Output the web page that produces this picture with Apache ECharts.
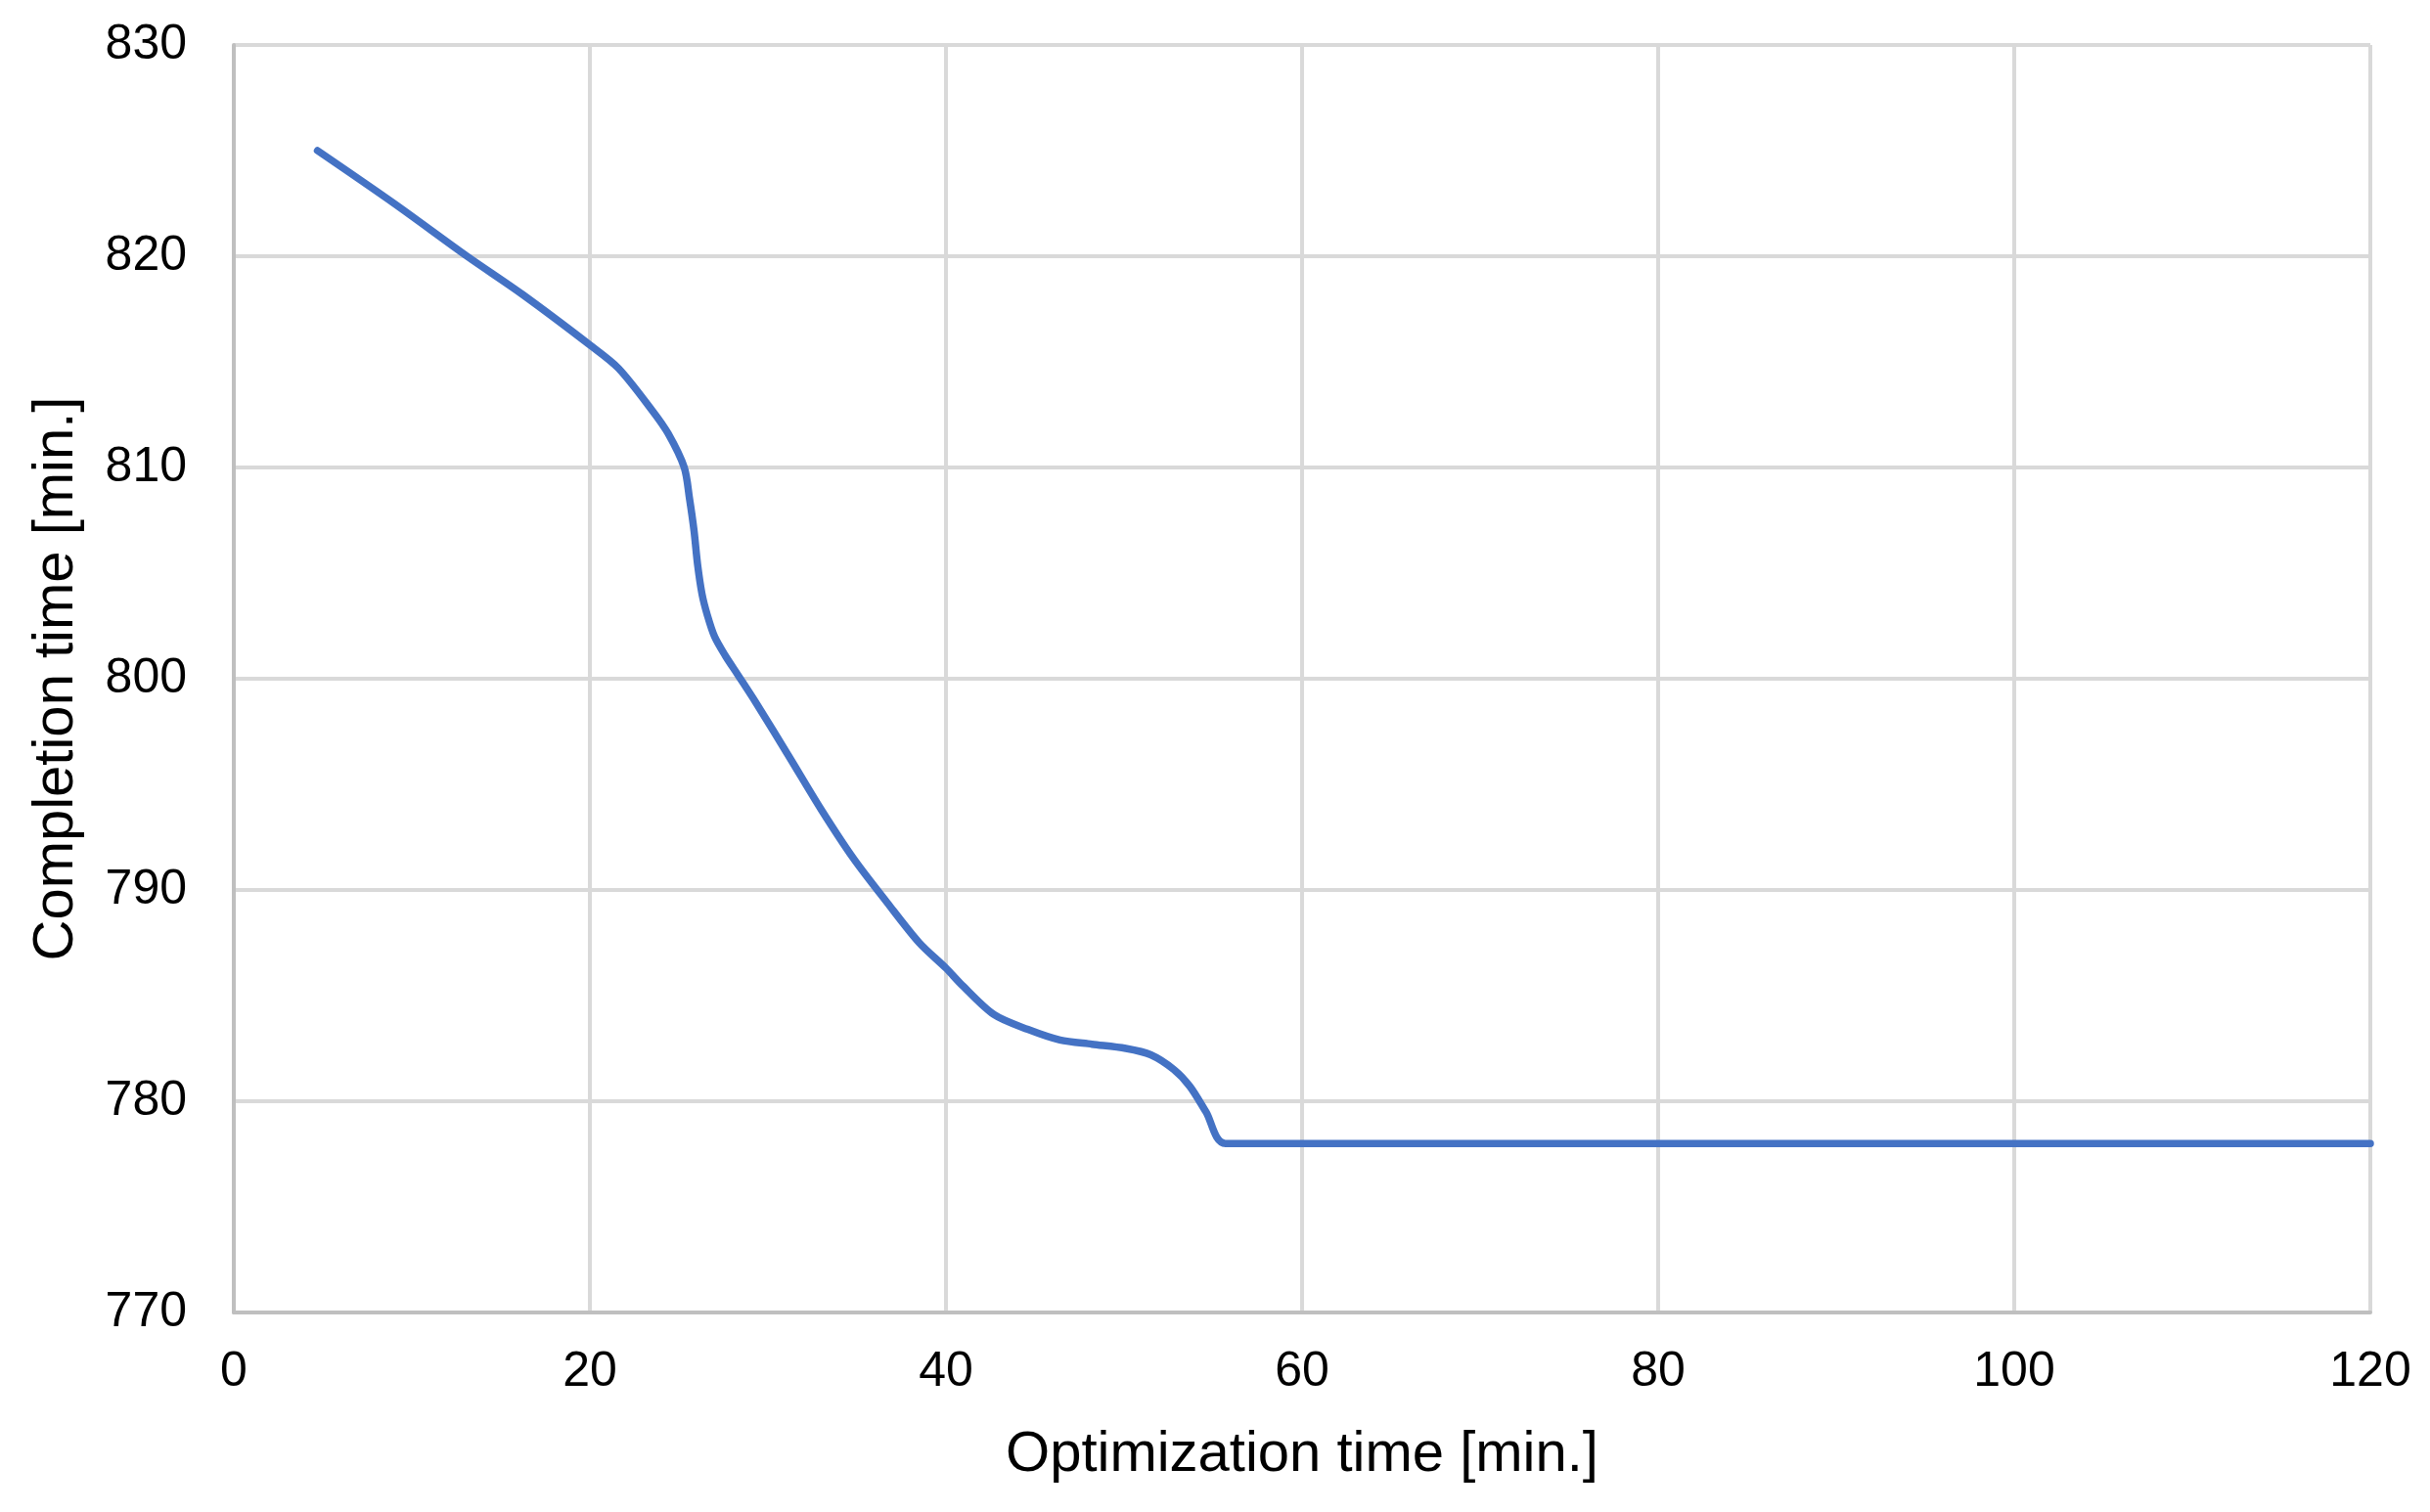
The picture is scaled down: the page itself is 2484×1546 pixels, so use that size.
<!DOCTYPE html>
<html>
<head>
<meta charset="utf-8">
<script src="https://cdn.jsdelivr.net/npm/echarts@6/dist/echarts.min.js"></script>
<style>
html,body{margin:0;padding:0;background:#fff;}
#chart{width:2484px;height:1546px;}
</style>
</head>
<body>
<div id="chart"></div>
<script>
// Optimization time [min.]
var optTime = [4.7, 9.0, 13.1, 16.2, 20.0, 21.6, 23.5, 24.4, 25.3, 25.6, 25.85, 26.05, 26.3, 26.6, 27.0, 27.6, 28.3, 29.3, 31.2, 33.0, 34.8, 36.7, 38.5, 40.0, 40.9, 42.7, 44.6, 46.4, 48.2, 50.1, 51.5, 52.8, 53.7, 54.6, 55.7, 120.0];
// Completion time [min.]
var completion = [825.0, 822.5, 820.0, 818.2, 815.8, 814.7, 812.7, 811.6, 810.0, 808.5, 807.0, 805.4, 804.0, 803.0, 802.0, 801.1, 800.2, 798.9, 796.3, 793.8, 791.5, 789.4, 787.5, 786.3, 785.5, 784.1, 783.4, 782.9, 782.7, 782.5, 782.2, 781.5, 780.7, 779.5, 778.0, 778.0];
var xTicks = [0, 20, 40, 60, 80, 100, 120];
var yTicks = [770, 780, 790, 800, 810, 820, 830];

var seriesData = optTime.map(function (x, i) { return [x, completion[i]]; });
var font = '"Liberation Sans", Arial, sans-serif';

var chart = echarts.init(document.getElementById('chart'));
chart.setOption({
  backgroundColor: '#ffffff',
  animation: false,
  grid: { left: 239, right: 61, top: 46, bottom: 204, containLabel: false },
  xAxis: {
    type: 'value',
    min: xTicks[0], max: xTicks[xTicks.length - 1], interval: 20,
    name: 'Optimization time [min.]',
    nameLocation: 'middle', nameGap: 117,
    nameTextStyle: { fontFamily: font, fontSize: 58, color: '#000' },
    axisLine: { show: true, lineStyle: { color: '#BFBFBF', width: 4 } },
    axisTick: { show: false },
    axisLabel: { fontFamily: font, fontSize: 50, color: '#000', margin: 36 },
    splitLine: { show: true, lineStyle: { color: '#D9D9D9', width: 4 } }
  },
  yAxis: {
    type: 'value',
    min: yTicks[0], max: yTicks[yTicks.length - 1], interval: 10,
    name: 'Completion time [min.]',
    nameLocation: 'middle', nameGap: 152, nameRotate: 90,
    nameTextStyle: { fontFamily: font, fontSize: 58, color: '#000' },
    axisLine: { show: true, lineStyle: { color: '#BFBFBF', width: 4 } },
    axisTick: { show: false },
    axisLabel: { fontFamily: font, fontSize: 50, color: '#000', margin: 48 },
    splitLine: { show: true, lineStyle: { color: '#D9D9D9', width: 4 } }
  },
  series: [{
    type: 'line',
    data: seriesData,
    showSymbol: false,
    smooth: 0.3,
    lineStyle: { color: '#4472C4', width: 7.5, cap: 'round', join: 'round' },
    z: 5
  }]
});
</script>
</body>
</html>
